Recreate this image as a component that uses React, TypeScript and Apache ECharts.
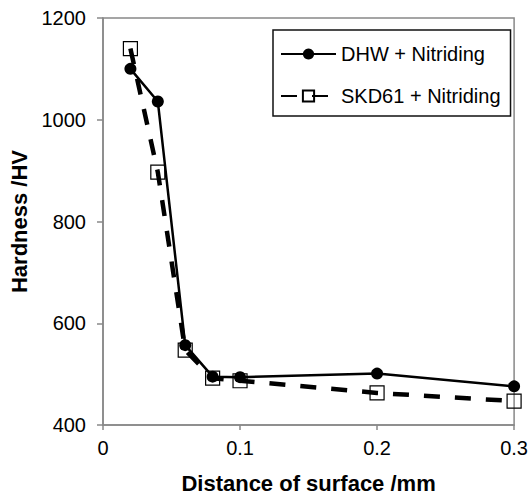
import React, { useEffect, useRef } from "react";
import * as echarts from "echarts";

const distances = [0.02, 0.04, 0.06, 0.08, 0.1, 0.2, 0.3];
const dhwHardness = [1100, 1036, 557, 495, 494, 501, 476];
const skdHardness = [1140, 897, 547, 492, 487, 463, 447];
const seriesNames = ["DHW + Nitriding", "SKD61 + Nitriding"];
const xTicks = [0, 0.1, 0.2, 0.3];
const yTicks = [400, 600, 800, 1000, 1200];

const FONT = "'Liberation Sans', Arial, sans-serif";

export default function App() {
  const ref = useRef<HTMLDivElement>(null);
  useEffect(() => {
    if (!ref.current) return;
    const chart = echarts.init(ref.current, undefined, { renderer: "svg" });
    const pair = (xs: number[], ys: number[]) => xs.map((x, i) => [x, ys[i]]);
    chart.setOption({
      animation: false,
      backgroundColor: "#ffffff",
      textStyle: { fontFamily: FONT },
      grid: {
        left: 103,
        top: 18,
        right: 16,
        bottom: 69,
        show: true,
        borderColor: "#888888",
        borderWidth: 1.5,
        backgroundColor: "transparent",
      },
      legend: {
        orient: "vertical",
        left: 273,
        top: 30,
        width: 235,
        itemWidth: 55,
        itemHeight: 14,
        itemGap: 22,
        padding: [14, 10, 10, 7],
        borderColor: "#111111",
        borderWidth: 1.5,
        textStyle: { fontSize: 20, color: "#000", fontFamily: FONT },
        data: seriesNames,
      },
      xAxis: {
        type: "value",
        min: xTicks[0],
        max: xTicks[xTicks.length - 1],
        interval: 0.1,
        splitLine: { show: false },
        axisLine: { lineStyle: { color: "#888888", width: 1.5 } },
        axisTick: { show: true, length: 5, lineStyle: { color: "#888888", width: 1.5 } },
        axisLabel: { fontSize: 20, color: "#000", margin: 13, fontFamily: FONT, formatter: (v: number) => String(v) },
        name: "Distance of surface /mm",
        nameLocation: "middle",
        nameGap: 47,
        nameTextStyle: { fontSize: 22, fontWeight: "bold", color: "#000", fontFamily: FONT },
      },
      yAxis: {
        type: "value",
        min: yTicks[0],
        max: yTicks[yTicks.length - 1],
        interval: 200,
        splitLine: { show: false },
        axisLine: { lineStyle: { color: "#888888", width: 1.5 } },
        axisTick: { show: true, length: 6, lineStyle: { color: "#888888", width: 1.5 } },
        axisLabel: { fontSize: 20, color: "#000", margin: 17, fontFamily: FONT, formatter: (v: number) => String(v) },
        name: "Hardness /HV",
        nameLocation: "middle",
        nameGap: 70,
        nameTextStyle: { fontSize: 22, fontWeight: "bold", color: "#000", fontFamily: FONT },
      },
      series: [
        {
          name: seriesNames[1],
          type: "line",
          data: pair(distances, skdHardness),
          symbol: "rect",
          symbolSize: 14,
          z: 2,
          lineStyle: { color: "#000", width: 4.5, type: [16, 15] },
          itemStyle: { color: "rgba(255,255,255,0)", borderColor: "#000", borderWidth: 1.2 },
        },
        {
          name: seriesNames[0],
          type: "line",
          data: pair(distances, dhwHardness),
          symbol: "circle",
          symbolSize: 12,
          z: 3,
          lineStyle: { color: "#000", width: 2.5 },
          itemStyle: { color: "#000" },
        },
      ],
    });
    return () => chart.dispose();
  }, []);
  return (
    <div
      ref={ref}
      style={{ position: "fixed", left: 0, top: 0, width: 531, height: 499 }}
    />
  );
}
